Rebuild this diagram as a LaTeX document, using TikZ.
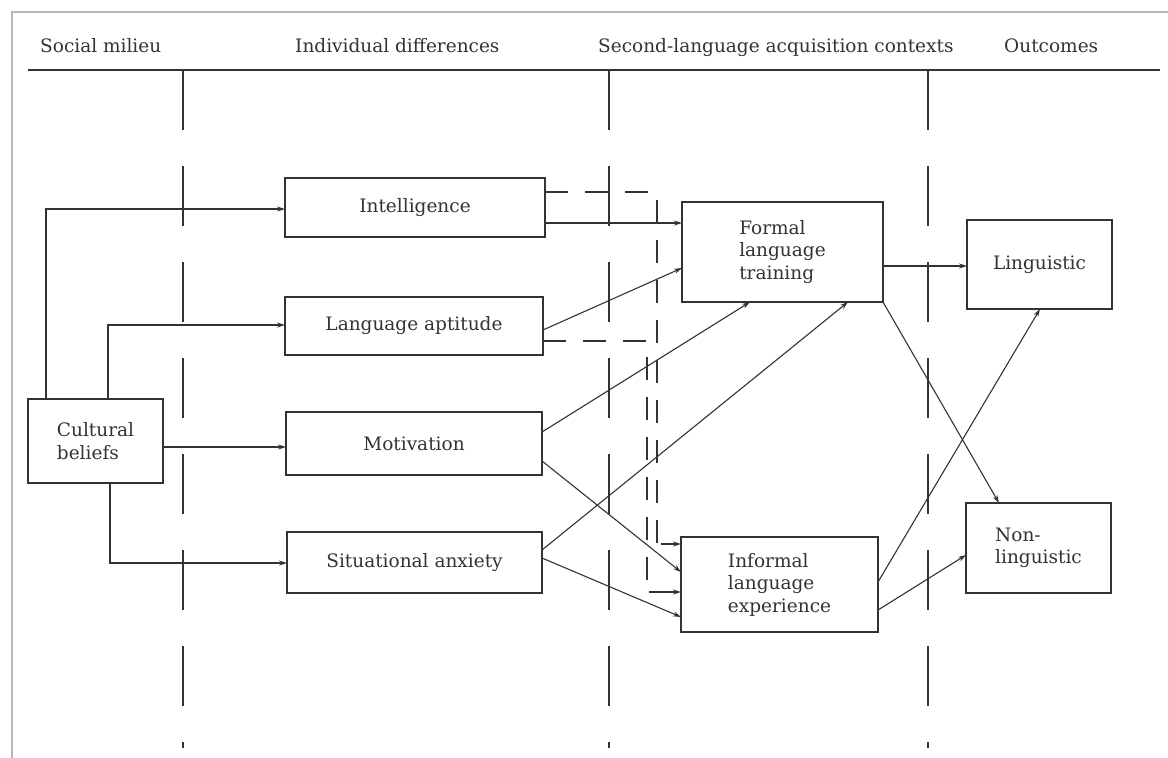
\documentclass[tikz,border=0pt]{standalone}
\usepackage{fontspec}
\setmainfont{DejaVu Serif}
\usetikzlibrary{arrows.meta,calc}
\definecolor{ink}{gray}{0.2}
\definecolor{framegray}{gray}{0.72}
\begin{document}
\begin{tikzpicture}[x=1pt,y=-1pt,
  font=\fontsize{18.5}{22.5}\selectfont,
  box/.style={draw=ink, line width=1.3pt, inner sep=0pt, outer sep=0pt, text=ink, align=center},
  conn/.style={draw=ink, line width=1.1pt, -{Stealth[length=8pt,width=5pt]}},
  dconn/.style={draw=ink, line width=1.1pt, dash pattern=on 23pt off 17pt},
  divider/.style={draw=ink, line width=1.1pt, dash pattern=on 60pt off 36pt},
  head/.style={anchor=base west, text=ink, inner sep=0pt}]
\useasboundingbox[fill=white] (0,0) rectangle (1168,758);
% page frame
\draw[framegray, line width=1.6pt] (12,760) -- (12,12) -- (1170,12);
% header
\node[head] (h1) at (40,52) {Social milieu};
\node[head] (h2) at (295,52) {Individual differences};
\node[head] (h3) at (598,52) {Second-language acquisition contexts};
\node[head] (h4) at (1004,52) {Outcomes};
\draw[ink, line width=1.4pt] (28,70) -- (1160,70);
% dividers
\draw[divider] (183,70) -- (183,748);
\draw[divider] (609,70) -- (609,748);
\draw[divider] (928,70) -- (928,748);
% boxes
\node[box, minimum width=135pt, minimum height=84pt, align=left] (cult) at (95.5,441) {Cultural\\beliefs};
\node[box, minimum width=260pt, minimum height=59pt] (intel) at (415,207.5) {Intelligence};
\node[box, minimum width=258pt, minimum height=58pt] (apt) at (414,326) {Language aptitude};
\node[box, minimum width=256pt, minimum height=63pt] (motiv) at (414,443.5) {Motivation};
\node[box, minimum width=255pt, minimum height=61pt] (sit) at (414.5,562.5) {Situational anxiety};
\node[box, minimum width=201pt, minimum height=100pt, align=left] (formal) at (782.5,252) {Formal\\language\\training};
\node[box, minimum width=197pt, minimum height=95pt, align=left] (informal) at (779.5,584.5) {Informal\\language\\experience};
\node[box, minimum width=145pt, minimum height=89pt] (ling) at (1039.5,264.5) {Linguistic};
\node[box, minimum width=145pt, minimum height=90pt, align=left] (nonling) at (1038.5,548) {Non-\\linguistic};
% social milieu -> individual differences
\draw[conn] (cult.north -| 46,0) |- (intel.west |- 0,209);
\draw[conn] (cult.north -| 108,0) |- (apt.west |- 0,325);
\draw[conn] (cult.east |- 0,447) -- (motiv.west |- 0,447);
\draw[conn] (cult.south -| 110,0) |- (sit.west |- 0,563);
% individual differences -> contexts
\draw[conn] (intel.east |- 0,223) -- (formal.west |- 0,223);
\draw[conn] (apt.east |- 0,330) -- (formal.west |- 0,268);
\draw[conn] (motiv.east |- 0,432) -- (formal.south -| 750,0);
\draw[conn] (motiv.east |- 0,461) -- (informal.west |- 0,572);
\draw[conn] (sit.east |- 0,550) -- (formal.south -| 848,0);
\draw[conn] (sit.east |- 0,558) -- (informal.west |- 0,617);
% dashed links
\coordinate (d1a) at (657,192);
\coordinate (d1b) at (657,544);
\coordinate (d1c) at (661,544);
\coordinate (d2a) at (647,341);
\coordinate (d2b) at (647,592);
\coordinate (d2c) at (649,592);
\draw[dconn] (intel.east |- d1a) -- (d1a) -- (d1b);
\draw[conn] (d1c) -- (informal.west |- d1c);
\draw[dconn] (apt.east |- d2a) -- (d2a) -- (d2b);
\draw[conn] (d2c) -- (informal.west |- d2c);
% contexts -> outcomes
\draw[conn] (formal.east |- 0,266) -- (ling.west |- 0,266);
\draw[conn] (formal.south east) -- (nonling.north -| 999,0);
\draw[conn] (informal.east |- 0,582) -- (ling.south -| 1040,0);
\draw[conn] (informal.east |- 0,610) -- (nonling.west |- 0,555);
\end{tikzpicture}
\end{document}
